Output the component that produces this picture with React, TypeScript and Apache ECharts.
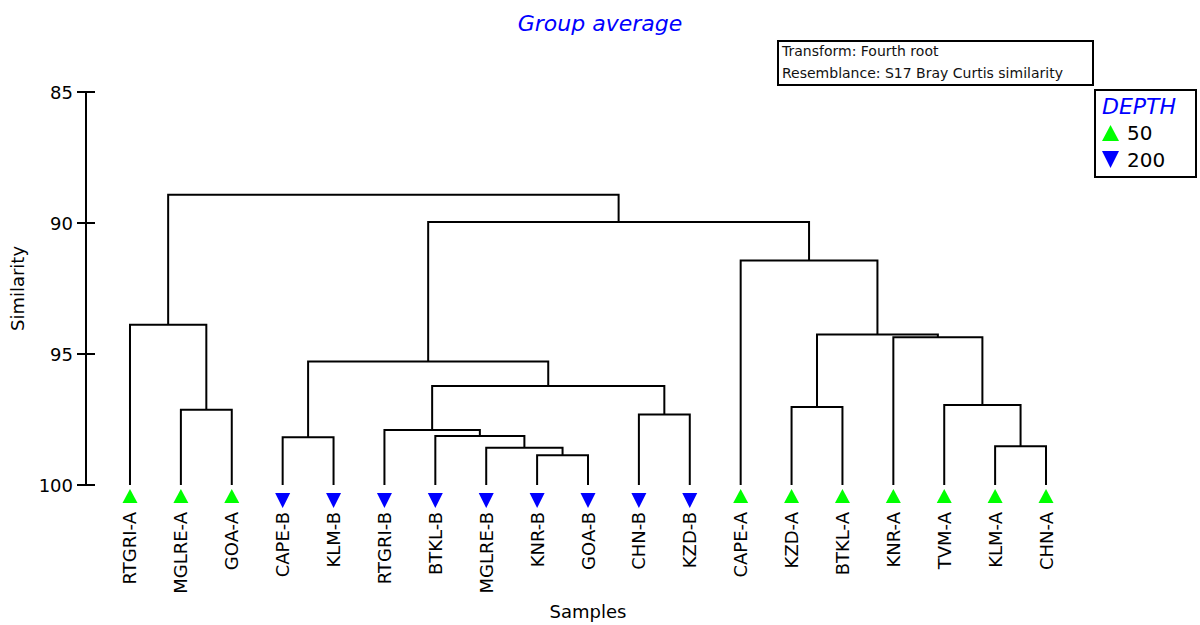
import React, { useEffect, useRef } from "react";
import * as echarts from "echarts";

// Samples in dendrogram leaf order, with their depth group
const sampleNames = [
  "RTGRI-A", "MGLRE-A", "GOA-A", "CAPE-B", "KLM-B", "RTGRI-B", "BTKL-B",
  "MGLRE-B", "KNR-B", "GOA-B", "CHN-B", "KZD-B", "CAPE-A", "KZD-A",
  "BTKL-A", "KNR-A", "TVM-A", "KLM-A", "CHN-A",
];
const sampleDepths = [
  50, 50, 50, 200, 200, 200, 200, 200, 200, 200, 200, 200, 50, 50, 50, 50, 50, 50, 50,
];

// Group-average agglomeration steps: [left node, right node, similarity].
// Nodes 0..18 are samples; step k creates node 19 + k.
const merges: [number, number, number][] = [
  [1, 2, 97.13],
  [0, 19, 93.88],
  [3, 4, 98.18],
  [8, 9, 98.86],
  [7, 22, 98.58],
  [6, 23, 98.13],
  [5, 24, 97.9],
  [10, 11, 97.31],
  [25, 26, 96.22],
  [21, 27, 95.29],
  [13, 14, 97.02],
  [17, 18, 98.52],
  [16, 30, 96.95],
  [15, 31, 94.36],
  [29, 32, 94.26],
  [12, 33, 91.43],
  [28, 34, 89.96],
  [20, 35, 88.92],
];

const similarityTicks = [85, 90, 95, 100];
const depthLevels = [50, 200];

const FONT = '"DejaVu Sans", "Liberation Sans", Arial, sans-serif';
const GREEN = "#00FF00";
const BLUE = "#0000FF";

function buildOption() {
  const n = sampleNames.length;
  const nodeX: number[] = sampleNames.map((_, i) => i);
  const nodeY: number[] = sampleNames.map(() => 100);
  const links: number[][] = [];
  merges.forEach(([a, b, s]) => {
    links.push([nodeX[a], nodeY[a], nodeX[b], nodeY[b], s]);
    nodeX.push((nodeX[a] + nodeX[b]) / 2);
    nodeY.push(s);
  });

  const leaves = sampleNames.map((name, i) => [i, 100, sampleDepths[i]]);
  const simMin = similarityTicks[0];
  const simMax = similarityTicks[similarityTicks.length - 1];
  const step = similarityTicks[1] - similarityTicks[0];
  const pad = 0.8644;
  const xMin = -pad;

  return {
    animation: false,
    backgroundColor: "#fff",
    title: {
      text: "Group average",
      left: "center",
      top: 7,
      textStyle: {
        color: BLUE,
        fontStyle: "italic",
        fontWeight: "normal",
        fontSize: 22,
        fontFamily: FONT,
      },
    },
    grid: { left: 86, right: 110, top: 92, bottom: 139 },
    xAxis: {
      type: "value",
      min: xMin,
      max: n - 1 + pad,
      axisLine: { show: false },
      axisTick: { show: false },
      axisLabel: { show: false },
      splitLine: { show: false },
      name: "Samples",
      nameLocation: "middle",
      nameGap: 117,
      nameTextStyle: { color: "#000", fontSize: 18, fontFamily: FONT },
    },
    yAxis: {
      type: "value",
      min: simMin,
      max: simMax,
      interval: step,
      inverse: true,
      axisLine: { show: true, onZero: false, lineStyle: { color: "#000", width: 2 } },
      axisTick: { show: true, length: 9, lineStyle: { color: "#000", width: 2 } },
      axisLabel: { color: "#000", fontSize: 18, fontFamily: FONT, margin: 13 },
      splitLine: { show: false },
      name: "Similarity",
      nameLocation: "middle",
      nameRotate: 90,
      nameGap: 60,
      nameTextStyle: { color: "#000", fontSize: 18, fontFamily: FONT },
    },
    series: [
      {
        type: "custom",
        name: "links",
        coordinateSystem: "cartesian2d",
        clip: false,
        data: links,
        renderItem: (params: any, api: any) => {
          const a = api.coord([api.value(0), api.value(1)]);
          const ah = api.coord([api.value(0), api.value(4)]);
          const bh = api.coord([api.value(2), api.value(4)]);
          const b = api.coord([api.value(2), api.value(3)]);
          return {
            type: "polyline",
            shape: { points: [a, ah, bh, b] },
            style: { stroke: "#000", lineWidth: 2, fill: null },
          };
        },
      },
      {
        // inner half of the similarity ticks (ticks cross the axis line)
        type: "custom",
        name: "innerTicks",
        coordinateSystem: "cartesian2d",
        clip: false,
        data: similarityTicks.map((v) => [0, v]),
        renderItem: (params: any, api: any) => {
          const p = api.coord([xMin, api.value(1)]);
          return {
            type: "polyline",
            shape: { points: [[p[0], p[1]], [p[0] + 9, p[1]]] },
            style: { stroke: "#000", lineWidth: 2, fill: null },
          };
        },
      },
      {
        type: "custom",
        name: "samples",
        coordinateSystem: "cartesian2d",
        clip: false,
        data: leaves,
        renderItem: (params: any, api: any) => {
          const idx = params.dataIndex;
          const p = api.coord([api.value(0), api.value(1)]);
          const shallow = api.value(2) === depthLevels[0];
          const x = p[0];
          const y = p[1];
          const tri = shallow
            ? [[x - 7.5, y + 18], [x + 7.5, y + 18], [x, y + 4]]
            : [[x - 7.5, y + 8], [x + 7.5, y + 8], [x, y + 23]];
          return {
            type: "group",
            children: [
              {
                type: "polygon",
                shape: { points: tri },
                style: { fill: shallow ? GREEN : BLUE },
              },
              {
                type: "text",
                x: x,
                y: y + 27,
                rotation: Math.PI / 2,
                style: {
                  text: sampleNames[idx],
                  fill: "#000",
                  fontSize: 18,
                  fontFamily: FONT,
                  align: "right",
                  verticalAlign: "middle",
                },
              },
            ],
          };
        },
      },
    ],
    graphic: [
      {
        type: "group",
        left: 777,
        top: 40,
        children: [
          {
            type: "rect",
            shape: { x: 0, y: 0, width: 315, height: 44 },
            style: { fill: "#fff", stroke: "#000", lineWidth: 2 },
          },
          {
            type: "text",
            x: 4,
            y: 10,
            style: {
              text: "Transform: Fourth root",
              fill: "#111",
              fontSize: 14,
              fontFamily: FONT,
              verticalAlign: "middle",
            },
          },
          {
            type: "text",
            x: 4,
            y: 32,
            style: {
              text: "Resemblance: S17 Bray Curtis similarity",
              fill: "#111",
              fontSize: 14,
              fontFamily: FONT,
              verticalAlign: "middle",
            },
          },
        ],
      },
      {
        type: "group",
        left: 1094,
        top: 89,
        children: [
          {
            type: "rect",
            shape: { x: 0, y: 0, width: 101, height: 87 },
            style: { fill: "#fff", stroke: "#000", lineWidth: 2 },
          },
          {
            type: "text",
            x: 7,
            y: 16,
            style: {
              text: "DEPTH",
              fill: BLUE,
              fontSize: 22,
              fontStyle: "italic",
              fontFamily: FONT,
              verticalAlign: "middle",
            },
          },
          {
            type: "polygon",
            shape: { points: [[7, 51], [24, 51], [15.5, 35]] },
            style: { fill: GREEN },
          },
          {
            type: "text",
            x: 32,
            y: 43,
            style: {
              text: String(depthLevels[0]),
              fill: "#000",
              fontSize: 20,
              fontFamily: FONT,
              verticalAlign: "middle",
            },
          },
          {
            type: "polygon",
            shape: { points: [[7, 61], [24, 61], [15.5, 78]] },
            style: { fill: BLUE },
          },
          {
            type: "text",
            x: 32,
            y: 70,
            style: {
              text: String(depthLevels[1]),
              fill: "#000",
              fontSize: 20,
              fontFamily: FONT,
              verticalAlign: "middle",
            },
          },
        ],
      },
    ],
  };
}

export default function App() {
  const ref = useRef<HTMLDivElement>(null);
  useEffect(() => {
    if (!ref.current) return;
    const chart = echarts.init(ref.current, undefined, { renderer: "svg" });
    chart.setOption(buildOption() as any);
    return () => chart.dispose();
  }, []);
  return (
    <div
      ref={ref}
      style={{ position: "fixed", left: 0, top: 0, width: 1200, height: 625, background: "#fff" }}
    />
  );
}
